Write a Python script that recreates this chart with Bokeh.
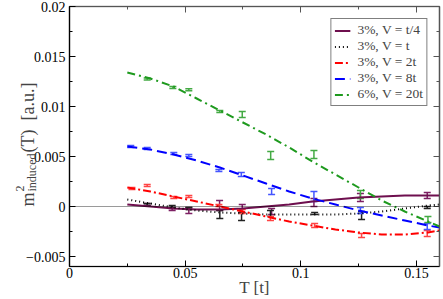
import math
from bokeh.plotting import figure
from bokeh.models import (Legend, LegendItem, LinearAxis, SingleIntervalTicker, Span,
                          Whisker, TeeHead, ColumnDataSource, Label, Range1d,
                          CustomJSTickFormatter)
from bokeh.embed import file_html
from bokeh.resources import INLINE

# ---------------- data ----------------
T_fit = [0.025, 0.035, 0.045, 0.055, 0.065, 0.075, 0.085, 0.095, 0.105,
         0.115, 0.125, 0.135, 0.145, 0.155, 0.16]

fit_v_quarter = [0.0002, 0.0000, -0.0002, -0.0003, -0.0003, -0.0002, 0.0000, 0.0002,
                 0.0005, 0.0007, 0.0009, 0.0010, 0.0011, 0.0011, 0.0011]
fit_v_t = [0.0007, 0.0003, -0.0001, -0.0004, -0.0006, -0.0007, -0.0008, -0.0008,
           -0.0008, -0.0008, -0.0007, -0.0005, -0.0002, 0.0001, 0.0002]
fit_v_2t = [0.0019, 0.0015, 0.0010, 0.0005, 0.0000, -0.0005, -0.0010, -0.0015,
            -0.0019, -0.0023, -0.0026, -0.0028, -0.0028, -0.0026, -0.0024]
fit_v_8t = [0.0060, 0.0057, 0.0052, 0.0046, 0.0039, 0.0031, 0.0023, 0.0015,
            0.0008, 0.0002, -0.0004, -0.0009, -0.0014, -0.0019, -0.0021]
fit_v_20t = [0.0134, 0.0128, 0.0120, 0.0108, 0.0096, 0.0084, 0.0072, 0.0059,
             0.0045, 0.0032, 0.0019, 0.0006, -0.0005, -0.0015, -0.0020]

T_quarter = [0.0336, 0.0444, 0.0516, 0.0649, 0.0747, 0.0874, 0.1057, 0.1258, 0.1547]
m_quarter = [0.0002, -0.0003, -0.0004, 0.0001, -0.0002, -0.0005, 0.0004, 0.0009, 0.0011]
e_quarter = [0.0001, 0.0001, 0.0003, 0.0005, 0.0004, 0.0003, 0.0004, 0.0004, 0.0003]

T_t = [0.0336, 0.0444, 0.0516, 0.0650, 0.0744, 0.0869, 0.1060, 0.1263, 0.1547]
m_t = [0.0002, 0.0000, -0.0002, -0.0008, -0.0010, -0.0007, -0.0007, -0.0009, -0.0001]
e_t = [0.0001, 0.0001, 0.0001, 0.0004, 0.0004, 0.0003, 0.0001, 0.0004, 0.0001]

T_2t = [0.0270, 0.0336, 0.0451, 0.0516, 0.0646, 0.0747, 0.0869, 0.1060, 0.1263, 0.1547]
m_2t = [0.0018, 0.0021, 0.0009, 0.0010, 0.0001, -0.0005, -0.0012, -0.0019, -0.0029, -0.0027]
e_2t = [0.0001, 0.0001, 0.0001, 0.0001, 0.0001, 0.0002, 0.0002, 0.0002, 0.0002, 0.0003]

T_8t = [0.0265, 0.0336, 0.0451, 0.0516, 0.0646, 0.0743, 0.0874, 0.1057, 0.1258, 0.1547]
m_8t = [0.0060, 0.0058, 0.0053, 0.0051, 0.0036, 0.0032, 0.0015, 0.0010, -0.0004, -0.0020]
e_8t = [0.0001, 0.0001, 0.0001, 0.0001, 0.0001, 0.0002, 0.0003, 0.0005, 0.0003, 0.0003]

T_20t = [0.0336, 0.0447, 0.0516, 0.0650, 0.0747, 0.0870, 0.1057, 0.1258, 0.1550]
m_20t = [0.01275, 0.0119, 0.01167, 0.0095, 0.0092, 0.0051, 0.0052, 0.0012, -0.0013]
e_20t = [0.0001, 0.0001, 0.0001, 0.0001, 0.0003, 0.0004, 0.0004, 0.0004, 0.0003]

labels = ["3%, V = t/4", "3%, V = t", "3%, V = 2t", "3%, V = 8t", "6%, V = 20t"]

# ---------------- figure ----------------
SERIF = "Liberation Serif"
LEFT = 130          # left border of the canvas (part of it is shifted off-page)
SHIFT = LEFT - 69   # so that the frame starts 69 px from the page edge

p = figure(frame_width=370, frame_height=260, output_backend="svg", toolbar_location=None,
           x_range=Range1d(0, 0.16), y_range=Range1d(-0.006, 0.02),
           min_border_left=LEFT, min_border_right=4, min_border_top=6, min_border_bottom=0)
p.styles = {"margin-left": f"-{SHIFT}px"}
p.background_fill_color = "white"
p.border_fill_color = "white"
p.xgrid.visible = False
p.ygrid.visible = False
p.outline_line_color = "#8a8a8a"
p.outline_line_width = 1.5

xt = SingleIntervalTicker(interval=0.05, num_minor_ticks=2)
yt = SingleIntervalTicker(interval=0.005, num_minor_ticks=2)

for ax in p.xaxis:
    ax.ticker = xt
for ax in p.yaxis:
    ax.ticker = yt

def style_axis(ax, labels_on=True, color="black"):
    ax.major_tick_in = 6
    ax.major_tick_out = 0
    ax.minor_tick_in = 3
    ax.minor_tick_out = 0
    ax.axis_line_color = color
    ax.axis_line_width = 1.2
    ax.major_tick_line_color = color
    ax.minor_tick_line_color = color
    if labels_on:
        ax.major_label_text_font = SERIF
        ax.major_label_text_font_size = "14px"
        ax.major_label_text_color = "black"
        ax.major_label_standoff = 4
    else:
        ax.formatter = CustomJSTickFormatter(code="return ''")
        ax.major_label_text_font_size = "1px"
        ax.major_label_standoff = 0

style_axis(p.xaxis[0])
style_axis(p.yaxis[0])
p.xaxis[0].major_label_standoff = 1
p.yaxis[0].formatter.use_scientific = False
p.xaxis[0].axis_label = "T [t]"
p.xaxis[0].axis_label_text_font = SERIF
p.xaxis[0].axis_label_text_font_size = "17px"
p.xaxis[0].axis_label_text_font_style = "normal"
p.xaxis[0].axis_label_standoff = -3

rax = LinearAxis(ticker=yt)
style_axis(rax, labels_on=False, color="#555555")
p.add_layout(rax, "right")
tax = LinearAxis(ticker=xt)
style_axis(tax, labels_on=False, color="#555555")
p.add_layout(tax, "above")

# zero line
p.add_layout(Span(location=0, dimension="width", line_color="black",
                  line_width=0.8, line_dash="1 1"))

colors = ["#6e0f4e", "black", "#ff0000", "#0000ff", "#1e9a1e"]
err_colors = ["#7d2063", "#222222", "#ff4444", "#4455ff", "#44aa44"]
dashes = ["solid", "1 3", "8 3 2 3", "10 5", "8 4 2 4"]
fits = [fit_v_quarter, fit_v_t, fit_v_2t, fit_v_8t, fit_v_20t]
pts = [(T_quarter, m_quarter, e_quarter), (T_t, m_t, e_t), (T_2t, m_2t, e_2t),
       (T_8t, m_8t, e_8t), (T_20t, m_20t, e_20t)]

items = []
for lab, col, ecol, dash, fit, (tx, my, ey) in zip(labels, colors, err_colors, dashes, fits, pts):
    r = p.line(T_fit, fit, line_color=col, line_width=2 if dash != "solid" else 2.2,
               line_dash=dash)
    items.append(LegendItem(label=lab, renderers=[r]))
    src = ColumnDataSource(dict(x=tx, lo=[a - b for a, b in zip(my, ey)],
                                hi=[a + b for a, b in zip(my, ey)]))
    w = Whisker(source=src, base="x", lower="lo", upper="hi", line_color=ecol,
                line_width=1.5,
                upper_head=TeeHead(size=7, line_color=ecol, line_width=1.5),
                lower_head=TeeHead(size=7, line_color=ecol, line_width=1.5))
    p.add_layout(w)

legend = Legend(items=items, location="top_right")
legend.margin = 12
legend.padding = 3
legend.spacing = 0
legend.label_height = 13
legend.glyph_height = 13
legend.glyph_width = 16
legend.label_standoff = 7
legend.label_text_font = SERIF
legend.label_text_font_size = "13.5px"
legend.border_line_color = "black"
legend.border_line_width = 1
legend.background_fill_alpha = 1
p.add_layout(legend, "center")

# y-axis label built from pieces (rotated), canvas coordinates, in the left panel
F, S = 18, 12
base_x = 27 + SHIFT
y0 = 206
m_w = 0.78 * F
def lab(x, y, t, size):
    p.add_layout(Label(x=x, y=y, x_units="canvas", y_units="canvas", text=t,
                       angle=math.pi / 2, text_font=SERIF, text_font_size=f"{size}px",
                       text_baseline="alphabetic", text_align="left"), "left")
lab(base_x, y0, "m", F)
lab(base_x - 8, y0 - m_w - 1, "2", S)
lab(base_x + 4, y0 - m_w - 1, "induced", S)
lab(base_x, y0 - m_w - 2 - 3.16 * S, "(T)\u2002[a.u.]", F)

open("out.html", "w").write(file_html(p, INLINE))
